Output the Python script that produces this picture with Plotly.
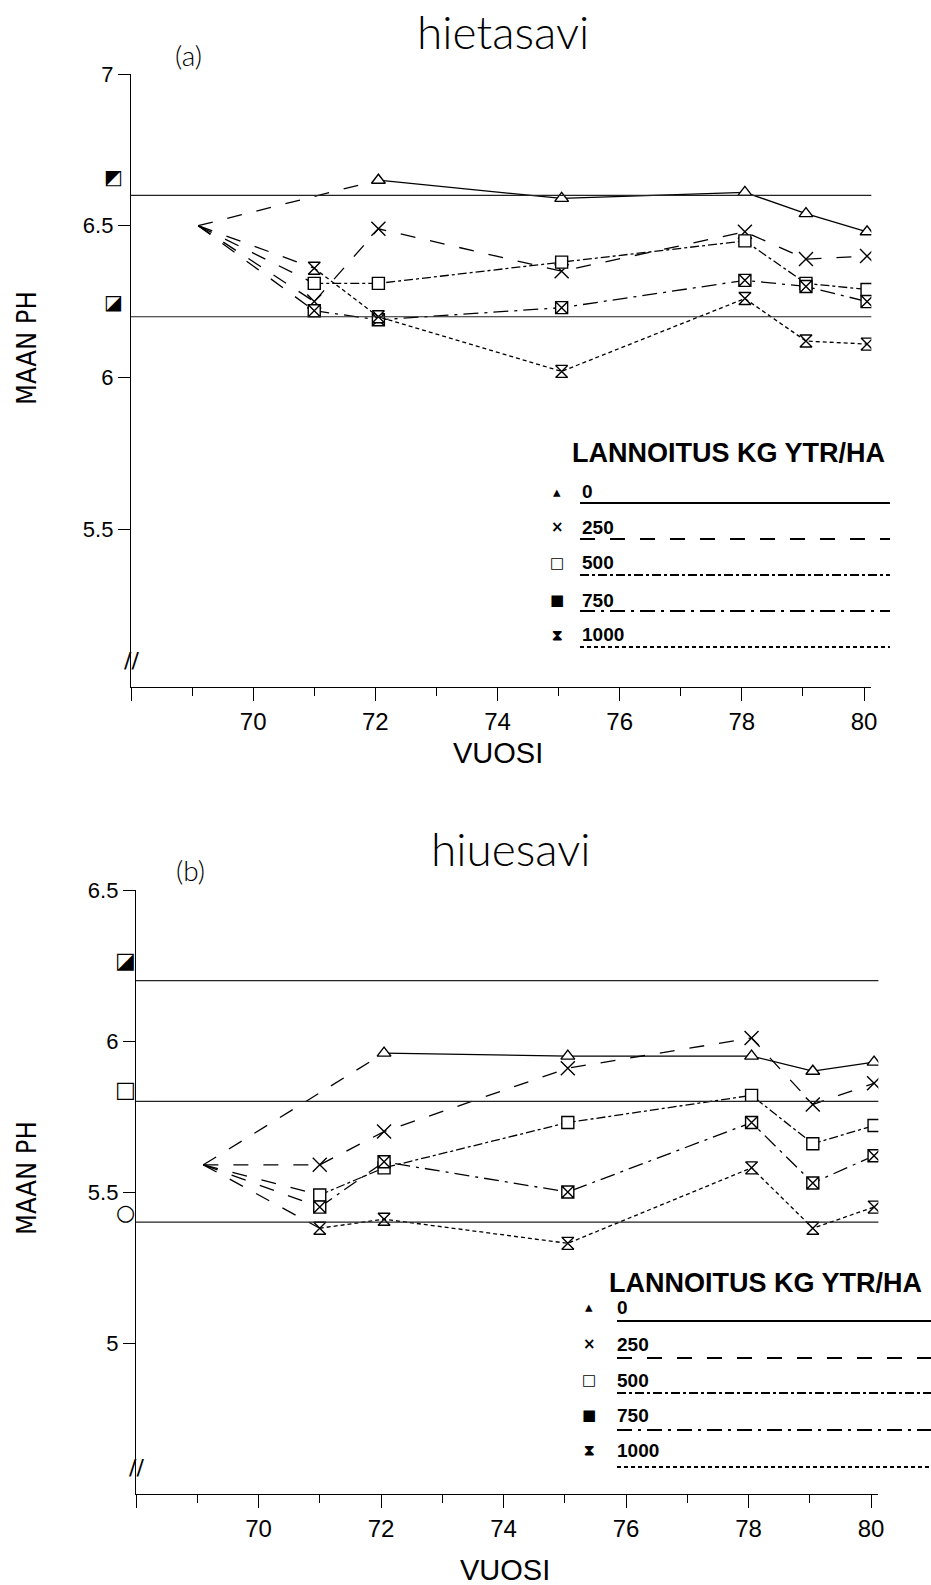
import plotly.graph_objects as go

W, H = 931, 1585

# ---------------- data ----------------
years = [69.1, 71.0, 72.05, 75.05, 78.05, 79.05, 80.05]
doses = ["0", "250", "500", "750", "1000"]

ph_a_0 = [6.50, None, 6.65, 6.59, 6.61, 6.54, 6.48]
ph_a_250 = [6.50, 6.25, 6.49, 6.35, 6.48, 6.39, 6.40]
ph_a_500 = [6.50, 6.31, 6.31, 6.38, 6.45, 6.31, 6.29]
ph_a_750 = [6.50, 6.22, 6.19, 6.23, 6.32, 6.30, 6.25]
ph_a_1000 = [6.50, 6.36, 6.20, 6.02, 6.26, 6.12, 6.11]

ph_b_0 = [5.59, None, 5.96, 5.95, 5.95, 5.90, 5.93]
ph_b_250 = [5.59, 5.59, 5.70, 5.91, 6.01, 5.79, 5.86]
ph_b_500 = [5.59, 5.49, 5.58, 5.73, 5.82, 5.66, 5.72]
ph_b_750 = [5.59, 5.45, 5.60, 5.50, 5.73, 5.53, 5.62]
ph_b_1000 = [5.59, 5.38, 5.41, 5.33, 5.58, 5.38, 5.45]

ref_a = [6.6, 6.2]
ref_a_sym = ["◩", "◪"]
ref_b = [6.2, 5.8, 5.4]
ref_b_sym = ["◪", "□", "○"]

xticks = [68, 70, 72, 74, 76, 78, 80]
xticktext = ["", "70", "72", "74", "76", "78", "80"]
yticks_a = [5.5, 6.0, 6.5, 7.0]
yticks_a_text = ["5.5", "6", "6.5", "7"]
yticks_b = [5.0, 5.5, 6.0, 6.5]
yticks_b_text = ["5", "5.5", "6", "6.5"]

# ---------------- styles ----------------
symbols = ["triangle-up", "x-thin", "square", "square-x", "hourglass"]
dashes = ["solid", "longdash", "dashdot", "longdashdot", "4px,3px"]
legend_glyphs = ["▴", "×", "□", "■", "⧗"]
FONT_COND = "DejaVu Sans Condensed, Liberation Sans, sans-serif"
FONT_PLAIN = "Liberation Sans, DejaVu Sans, sans-serif"
FONT_TITLE = "Lato, Open Sans, sans-serif"

ref_a_style = [(18, 18, 20), (18, 15, 20)]
ref_b_style = [(11, 20, 22), (11, 12, 22), (11, 10, 22)]

XMAX = 80.12
PX_PER_YR_A = (864 - 131) / 12.0
PX_PER_YR_B = (871 - 136) / 12.0


def px(x):
    return x / W


def py(y):
    return 1 - y / H


fig = go.Figure()

panels = [
    ("x", "y", [ph_a_0, ph_a_250, ph_a_500, ph_a_750, ph_a_1000]),
    ("x2", "y2", [ph_b_0, ph_b_250, ph_b_500, ph_b_750, ph_b_1000]),
]

for xa, ya, series in panels:
    for i, vals in enumerate(series):
        k = next(j for j in range(1, len(vals)) if vals[j] is not None)
        # dashed connection from the common starting point
        fig.add_trace(go.Scatter(
            x=[years[0], years[k]], y=[vals[0], vals[k]], xaxis=xa, yaxis=ya,
            mode="lines", line=dict(color="black", width=1.3, dash="longdash"),
            showlegend=False, hoverinfo="skip"))
        xs = [years[j] for j in range(k, len(vals)) if vals[j] is not None]
        ys = [vals[j] for j in range(k, len(vals)) if vals[j] is not None]
        fig.add_trace(go.Scatter(
            x=xs, y=ys, xaxis=xa, yaxis=ya, mode="lines+markers",
            line=dict(color="black", width=1.3, dash=dashes[i]),
            marker=dict(symbol=symbols[i], size=12 if i != 1 else 14,
                        color="white" if i != 1 else "black",
                        line=dict(color="black", width=1.4)),
            name=doses[i], showlegend=False))

shapes = []
annotations = []

# reference lines with their symbols left of the axis
for refs, syms, sty, xa, ya in [(ref_a, ref_a_sym, ref_a_style, "x", "y"),
                                (ref_b, ref_b_sym, ref_b_style, "x2", "y2")]:
    for v, s, (dx, dy, fs) in zip(refs, syms, sty):
        shapes.append(dict(type="line", xref=f"{xa} domain", yref=ya, x0=0, x1=1.0,
                           y0=v, y1=v, line=dict(color="#222", width=1.2)))
        annotations.append(dict(text=s, xref=f"{xa} domain", yref=ya, x=0, y=v,
                                xanchor="center", yanchor="middle",
                                xshift=-dx, yshift=dy, showarrow=False,
                                font=dict(size=fs, color="black", family="DejaVu Sans")))

# axis break marks
for xa, ya in [("x", "y"), ("x2", "y2")]:
    annotations.append(dict(text="//", xref=f"{xa} domain", yref=f"{ya} domain", x=0, y=0,
                            xanchor="center", yanchor="middle",
                            yshift=27, showarrow=False,
                            font=dict(size=22, color="black", family="DejaVu Sans")))


def text_at(t, x, y, size, family, angle=0, weight="normal", xanchor="center"):
    return dict(text=t, x=px(x), y=py(y), xref="paper", yref="paper", showarrow=False,
                xanchor=xanchor, yanchor="middle", textangle=angle,
                font=dict(size=size, family=family, color="black", weight=weight))


annotations += [
    text_at("hietasavi", 503, 32, 46, FONT_TITLE, weight=300),
    text_at("(a)", 188, 55, 28, FONT_TITLE, weight=300),
    text_at("hiuesavi", 511, 848, 46, FONT_TITLE, weight=300),
    text_at("(b)", 190, 870, 28, FONT_TITLE, weight=300),
    text_at("MAAN PH", 26, 348, 27, FONT_COND, angle=-90),
    text_at("MAAN PH", 26, 1178, 27, FONT_COND, angle=-90),
    text_at("VUOSI", 498, 753, 29, FONT_PLAIN),
    text_at("VUOSI", 505, 1570, 29, FONT_PLAIN),
]

# hand-drawn style legends
legend_specs = [
    dict(title_x=570, title_y=453, sym_x=557, lab_x=580, lab_y=[492, 527, 563, 600, 635],
         line_x0=580, line_x1=890, line_y=[503, 539, 575, 611, 647]),
    dict(title_x=607, title_y=1283, sym_x=589, lab_x=615, lab_y=[1307, 1344, 1380, 1415, 1450],
         line_x0=617, line_x1=931, line_y=[1321, 1358, 1393, 1430, 1467]),
]
for spec in legend_specs:
    annotations.append(text_at("<b>LANNOITUS KG YTR/HA</b>", spec["title_x"], spec["title_y"],
                               27, FONT_PLAIN, xanchor="left"))
    for i in range(5):
        annotations.append(text_at(f"<b>{legend_glyphs[i]}</b>", spec["sym_x"],
                                   spec["lab_y"][i], 15, "DejaVu Sans"))
        annotations.append(text_at(f"<b>{doses[i]}</b>", spec["lab_x"], spec["lab_y"][i],
                                   19, FONT_PLAIN, xanchor="left"))
        shapes.append(dict(type="line", xref="paper", yref="paper",
                           x0=px(spec["line_x0"]), x1=px(spec["line_x1"]),
                           y0=py(spec["line_y"][i]), y1=py(spec["line_y"][i]),
                           line=dict(color="black", width=1.8, dash=dashes[i])))

xcommon = dict(range=[68, XMAX], tickvals=xticks, ticktext=xticktext, ticks="outside",
               ticklen=13, tickwidth=1.3, tickcolor="black", showline=True,
               linecolor="black", linewidth=1.4, showgrid=False, zeroline=False,
               automargin=False,
               minor=dict(ticks="outside", dtick=1, tick0=68, ticklen=8, tickwidth=1.2,
                          tickcolor="black", showgrid=False),
               tickfont=dict(size=24, family=FONT_PLAIN, color="black"))
ycommon = dict(ticks="outside", ticklen=12, tickwidth=1.3, tickcolor="black",
               showline=True, linecolor="black", linewidth=1.3, showgrid=False,
               zeroline=False, automargin=False,
               tickfont=dict(size=22, family=FONT_PLAIN, color="black"))

fig.update_layout(
    width=W, height=H, autosize=False,
    margin=dict(l=0, r=0, t=0, b=0, autoexpand=False),
    paper_bgcolor="white", plot_bgcolor="white",
    showlegend=False,
    xaxis=dict(domain=[px(131), px(131 + (XMAX - 68) * PX_PER_YR_A)], anchor="y", **xcommon),
    yaxis=dict(domain=[py(687), py(74)], anchor="x", range=[4.98, 7.0],
               tickvals=yticks_a, ticktext=yticks_a_text, **ycommon),
    xaxis2=dict(domain=[px(136), px(136 + (XMAX - 68) * PX_PER_YR_B)], anchor="y2", **xcommon),
    yaxis2=dict(domain=[py(1494), py(890)], anchor="x2", range=[4.5, 6.5],
                tickvals=yticks_b, ticktext=yticks_b_text, **ycommon),
    shapes=shapes,
    annotations=annotations,
)

fig.write_html("out.html", post_script="document.body.style.margin='0';",
               config={"displayModeBar": False})
